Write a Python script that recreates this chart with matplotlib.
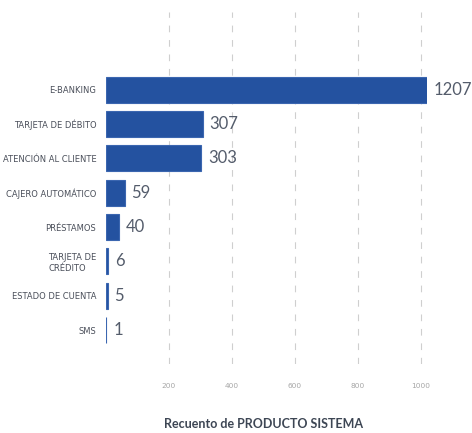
import matplotlib
matplotlib.use("Agg")
import matplotlib.pyplot as plt

# Data
categories = ["E-BANKING", "TARJETA DE DÉBITO", "ATENCIÓN AL CLIENTE", "CAJERO AUTOMÁTICO",
              "PRÉSTAMOS", "TARJETA DE\nCRÉDITO", "ESTADO DE CUENTA", "SMS"]
counts = [1207, 307, 303, 59, 40, 6, 5, 1]
tick_values = [200, 400, 600, 800, 1000]
axis_title = "Recuento de PRODUCTO SISTEMA"

plt.rcParams['font.family'] = ['Lato', 'DejaVu Sans']

W, H = 472, 433
fig = plt.figure(figsize=(W / 100, H / 100), dpi=100)
ax_left, ax_right, ax_top, ax_bottom = 106, 427, 12, 364
ax = fig.add_axes([ax_left / W, 1 - ax_bottom / H,
                   (ax_right - ax_left) / W, (ax_bottom - ax_top) / H])

bar_color = "#2452a0"
xmax = 1019
y = list(range(len(categories)))
ax.barh(y, counts, height=0.76, color=bar_color, edgecolor="#3b66b0",
        linewidth=0.8, zorder=3)

ax.set_xlim(0, xmax)
ax.set_ylim(7.99, -2.265)

for yi, v in zip(y, counts):
    ax.annotate(str(v), xy=(min(v, xmax), yi), xytext=(5, 0),
                textcoords="offset points", ha="left", va="center",
                fontsize=12, fontweight="normal", color="#545c6b",
                annotation_clip=False)

label_font = ['DejaVu Sans']
ax.set_yticks(y)
ax.set_yticklabels(categories, fontsize=6.0, color="#4a4f5a", linespacing=1.2,
                   family=label_font)
for lbl in ax.get_yticklabels():
    lbl.set_multialignment("left")
ax.set_xticks(tick_values)
ax.set_xticklabels([str(t) for t in tick_values], fontsize=5.3, color="#a6a6a6",
                   family=label_font)
ax.tick_params(axis="x", length=0, pad=14)
ax.tick_params(axis="y", length=0, pad=7)

for s in ax.spines.values():
    s.set_visible(False)
ax.grid(axis="x", color="#cfcfcf", linestyle=(0, (6, 7)), linewidth=0.8, zorder=0)
ax.grid(axis="y", visible=False)

fig.text(263.5 / W, 1 - 424 / H, axis_title, ha="center", va="center",
         fontsize=9, fontweight="bold", color="#3d4654")

fig.savefig("out.png", dpi=100)
